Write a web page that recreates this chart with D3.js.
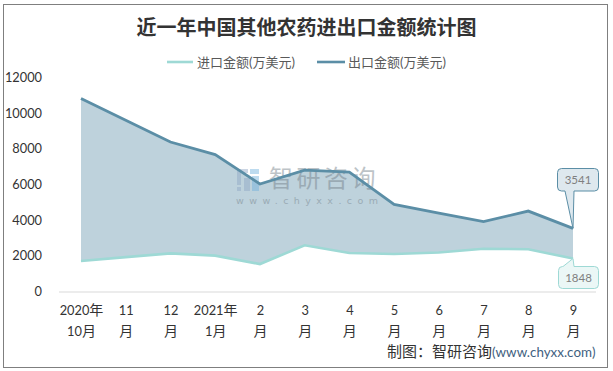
<!DOCTYPE html>
<html>
<head>
<meta charset="utf-8">
<script src="https://cdn.jsdelivr.net/npm/d3@7"></script>
<style>
  html, body { margin: 0; padding: 0; background: #fff; }
  svg { display: block; }
  text { font-family: Lato, "Noto Sans CJK SC", sans-serif; }
  .axis path, .axis line { display: none; }
  .axis text { font-size: 12.8px; fill: #333; font-family: Lato, "Noto Sans CJK SC", sans-serif; }
  .axis .cjk { font-size: 14px; font-family: "Noto Sans CJK SC"; }
</style>
</head>
<body>
<svg id="chart"></svg>
<script>
const titleText = '近一年中国其他农药进出口金额统计图';
const importName = '进口金额(万美元)';
const exportName = '出口金额(万美元)';
const monthLine1 = ['2020年', '11', '12', '2021年', '2', '3', '4', '5', '6', '7', '8', '9'];
const monthLine2 = ['10月', '月', '月', '1月', '月', '月', '月', '月', '月', '月', '月', '月'];
const importValues = [1710, 1930, 2140, 2010, 1540, 2590, 2160, 2100, 2190, 2400, 2370, 1848];
const exportValues = [10820, 9600, 8380, 7680, 6030, 6810, 6700, 4880, 4400, 3915, 4510, 3541];
const yTicks = [0, 2000, 4000, 6000, 8000, 10000, 12000];

const width = 613, height = 371;
const importColor = '#9ed9d5', exportColor = '#5b8ea6', areaColor = '#bed2dc';

const svg = d3.select('#chart').attr('width', width).attr('height', height);

// outer frame
svg.append('rect')
    .attr('x', 3.5).attr('y', 4.5)
    .attr('width', 604).attr('height', 363)
    .attr('fill', '#fff').attr('stroke', '#7f7f7f').attr('stroke-width', 1);

svg.append('text')
    .attr('x', 306.5).attr('y', 35)
    .attr('text-anchor', 'middle')
    .style('font-family', '"Noto Sans CJK SC"')
    .style('font-size', '20px').style('font-weight', 700)
    .attr('fill', '#333')
    .text(titleText);

// scales
const x = d3.scalePoint().domain(d3.range(monthLine1.length)).range([81, 573]);
const y = d3.scaleLinear().domain([0, 12000]).range([291.5, 77.5]);

// band between the two series
const band = d3.area()
    .x((d, i) => x(i))
    .y0((d, i) => y(importValues[i]))
    .y1(d => y(d));
svg.append('path').datum(exportValues).attr('d', band).attr('fill', areaColor);

// watermark
const wm = svg.append('g').attr('opacity', 0.45).attr('fill', '#6f7b85');
wm.append('rect').attr('x', 237).attr('y', 169).attr('width', 11).attr('height', 4).attr('fill', '#8fa6c4');
wm.append('rect').attr('x', 237).attr('y', 173).attr('width', 4).attr('height', 12).attr('fill', '#8fa6c4');
wm.append('rect').attr('x', 237).attr('y', 187).attr('width', 4).attr('height', 4).attr('fill', '#8fa6c4');
wm.append('rect').attr('x', 244).attr('y', 178).attr('width', 6).attr('height', 13).attr('fill', '#8fa6c4');
wm.append('rect').attr('x', 250).attr('y', 169).attr('width', 9).attr('height', 5).attr('fill', '#6fb0dc');
wm.append('rect').attr('x', 252).attr('y', 176).attr('width', 7).attr('height', 15).attr('fill', '#6fb0dc');
wm.append('text').attr('x', 269).attr('y', 187)
    .style('font-family', '"Noto Sans CJK SC"').style('font-size', '24px').style('letter-spacing', '3.5px')
    .text('智研咨询');
wm.append('text').attr('x', 236).attr('y', 204)
    .style('font-family', '"DejaVu Sans"').style('font-size', '9.5px').attr('textLength', 142)
    .text('www.chyxx.com');

// baseline
svg.append('line')
    .attr('x1', 59).attr('x2', 596)
    .attr('y1', y(0) + 0.5).attr('y2', y(0) + 0.5)
    .attr('stroke', '#d9d9d9').attr('stroke-width', 1);

// axes
svg.append('g')
    .attr('class', 'axis')
    .attr('transform', 'translate(48,0)')
    .call(d3.axisLeft(y).tickValues(yTicks).tickFormat(d3.format('d')).tickSize(0).tickPadding(6));

// month labels sit on two lines, digits and CJK in their own font
function addLabelLine(t, label, lineY) {
  const row = t.append('tspan').attr('x', 0).attr('y', lineY);
  label.split(/(?<=\d)(?=\D)/).forEach(part => {
    row.append('tspan').attr('class', /\d/.test(part) ? null : 'cjk').text(part);
  });
}
const xAxisG = svg.append('g')
    .attr('class', 'axis')
    .attr('transform', `translate(0,${y(0)})`)
    .call(d3.axisBottom(x).tickSize(0).tickPadding(0).tickFormat(() => ''));
xAxisG.selectAll('.tick text').each(function(d) {
  const t = d3.select(this).attr('y', 0).attr('dy', 0);
  addLabelLine(t, monthLine1[d], 23.5);
  addLabelLine(t, monthLine2[d], 44);
});

// series lines
const line = d3.line().x((d, i) => x(i)).y(d => y(d));
svg.append('path').datum(importValues).attr('d', line)
    .attr('fill', 'none').attr('stroke', importColor).attr('stroke-width', 2.6);
svg.append('path').datum(exportValues).attr('d', line)
    .attr('fill', 'none').attr('stroke', exportColor).attr('stroke-width', 2.8);

// legend
const legend = svg.append('g');
[[167, 193, 197, importColor, importName], [317, 345, 348, exportColor, exportName]].forEach(l => {
  legend.append('line').attr('x1', l[0]).attr('x2', l[1]).attr('y1', 62).attr('y2', 62)
      .attr('stroke', l[3]).attr('stroke-width', 2.6);
  legend.append('text').attr('x', l[2]).attr('y', 66.5)
      .style('font-size', '13px').attr('fill', '#595959').text(l[4]);
});

// callouts on the last point
function callout(value, left, top, w, h, baseA, baseB, fill, stroke) {
  const last = monthLine1.length - 1;
  const tipX = x(last), tipY = y(value);
  const r = 4, right = left + w, bottom = top + h;
  const below = tipY < top;
  let p = `M${left + r},${top}`;
  if (below) { p += `L${baseA},${top}L${tipX},${tipY}L${baseB},${top}`; }
  p += `L${right - r},${top}Q${right},${top} ${right},${top + r}L${right},${bottom - r}Q${right},${bottom} ${right - r},${bottom}`;
  if (!below) { p += `L${baseB},${bottom}L${tipX},${tipY}L${baseA},${bottom}`; }
  p += `L${left + r},${bottom}Q${left},${bottom} ${left},${bottom - r}L${left},${top + r}Q${left},${top} ${left + r},${top}Z`;
  svg.append('path').attr('d', p).attr('fill', fill).attr('stroke', stroke).attr('stroke-width', 1);
  svg.append('text').attr('x', left + w / 2).attr('y', top + h / 2 + 4)
      .attr('text-anchor', 'middle').style('font-size', '11.5px').attr('fill', '#7f7f7f').text(value);
}
callout(exportValues[11], 557.5, 168.5, 41, 22.5, 565, 574, '#dee8ee', exportColor);
callout(importValues[11], 558.5, 266.5, 40, 22, 563, 574, '#ebf7f6', importColor);

// source note
const src = svg.append('text').attr('x', 387).attr('y', 357).style('font-size', '15px');
src.append('tspan').style('font-family', '"Noto Sans CJK SC"').attr('fill', '#333').text('制图：智研咨询');
src.append('tspan').style('font-family', 'Lato').style('font-size', '13.4px').attr('fill', '#3f5f80').text('(www.chyxx.com)');
</script>
</body>
</html>
